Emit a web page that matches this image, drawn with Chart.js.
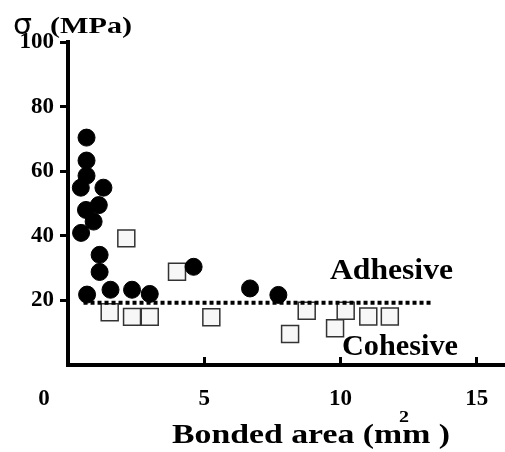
<!DOCTYPE html>
<html><head><meta charset="utf-8">
<script src="https://cdn.jsdelivr.net/npm/chart.js@4/dist/chart.umd.min.js"></script>
<style>html,body{margin:0;padding:0;background:#fff}canvas{display:block}</style>
</head><body>
<canvas id="c" width="505" height="452"></canvas>
<script>
// Adhesive failures (filled circles)
const adhesiveX = [0.68,0.68,0.68,0.47,1.30,0.66,1.13,0.94,0.48,1.16,1.16,0.70,1.56,2.35,3.0,4.61,6.68,7.72];
const adhesiveY = [70.4,63.3,58.6,54.9,54.9,48.0,49.5,44.4,40.9,34.1,28.8,21.8,23.3,23.3,22.0,30.4,23.7,21.7];
// Cohesive failures (open squares)
const cohesiveX = [2.14,1.53,2.35,3.0,4.0,5.26,8.15,8.76,9.8,10.19,11.02,11.81];
const cohesiveY = [39.2,16.3,14.9,14.9,28.9,14.8,9.6,16.8,11.4,16.8,15.0,15.0];
// Threshold (dotted line)
const thresholdX = [0.57,13.4];
const thresholdY = [19.3,19.3];
// Axis ticks
const xTicks = [0,5,10,15];
const yTicks = [0,20,40,60,80,100];
const xRange = [0,16];
const yRange = [0,100];

const pts = (xs, ys) => xs.map((x,i) => ({x, y: ys[i]}));
const SERIF = "'Liberation Serif','Times New Roman',serif";

function drawText(ctx, txt, left, baseline, font, targetW) {
  ctx.save();
  ctx.font = font;
  ctx.textAlign = 'left';
  ctx.textBaseline = 'alphabetic';
  ctx.fillStyle = '#000';
  const w = ctx.measureText(txt).width;
  const sx = targetW ? targetW / w : 1;
  ctx.translate(left, baseline);
  ctx.scale(sx, 1);
  ctx.fillText(txt, 0, 0);
  ctx.restore();
}

const textPlugin = {
  id: 'texts',
  afterDraw(chart) {
    const ctx = chart.ctx;
    const xs = chart.scales.x;
    // y axis title
    drawText(ctx, 'σ', 13, 34, "28px 'DejaVu Sans'", 19);
    drawText(ctx, '(MPa)', 50, 33, "bold 24px " + SERIF, 82);
    // region labels
    drawText(ctx, 'Adhesive', 330, 279, "bold 29px " + SERIF, 123);
    drawText(ctx, 'Cohesive', 342, 355, "bold 29px " + SERIF, 116);
    // x axis title
    drawText(ctx, 'Bonded area (mm )', 172, 443, "bold 27px " + SERIF, 278);
    drawText(ctx, '2', 399, 422, "bold 16px " + SERIF, 10);
    // origin label, shifted left of the axis as in the original
    ctx.save();
    ctx.font = "bold 23px " + SERIF;
    ctx.fillStyle = '#000';
    ctx.textAlign = 'center';
    ctx.textBaseline = 'alphabetic';
    ctx.fillText('0', xs.getPixelForValue(0) - 24, 405);
    ctx.restore();
  }
};

const hideZero = c => (c.tick && c.tick.value === 0) ? 'rgba(0,0,0,0)' : '#000';

new Chart(document.getElementById('c'), {
  type: 'scatter',
  data: {
    datasets: [
      {
        label: 'Adhesive',
        data: pts(adhesiveX, adhesiveY),
        pointStyle: 'circle',
        pointRadius: 8.5,
        backgroundColor: '#000',
        borderColor: '#000',
        borderWidth: 1,
        order: 0
      },
      {
        type: 'line',
        label: 'Threshold',
        data: pts(thresholdX, thresholdY),
        borderColor: '#000',
        borderWidth: 4,
        borderDash: [4,3],
        borderCapStyle: 'butt',
        pointRadius: 0,
        fill: false,
        showLine: true,
        order: 1
      },
      {
        label: 'Cohesive',
        data: pts(cohesiveX, cohesiveY),
        pointStyle: 'rect',
        pointRadius: 12,
        backgroundColor: '#f7f7f7',
        borderColor: '#333',
        borderWidth: 1.5,
        order: 2
      }
    ]
  },
  options: {
    responsive: false,
    animation: false,
    events: [],
    layout: { autoPadding: false, padding: { top: 42, right: 1, bottom: 0, left: 0 } },
    plugins: { legend: { display: false }, tooltip: { enabled: false } },
    scales: {
      x: {
        type: 'linear',
        min: xRange[0], max: xRange[1],
        afterBuildTicks: s => { s.ticks = xTicks.map(v => ({ value: v })); },
        afterFit: s => { s.height = 87; s.paddingLeft = 0; s.paddingRight = 0; },
        border: { display: true, color: '#000', width: 4 },
        grid: { drawOnChartArea: false, drawTicks: true, tickLength: -8, tickWidth: 3, tickColor: hideZero },
        ticks: {
          font: { family: SERIF, weight: 'bold', size: 23 },
          color: '#000', padding: 28, autoSkip: false, maxRotation: 0,
          callback: v => v === 0 ? '' : String(v)
        }
      },
      y: {
        type: 'linear',
        min: yRange[0], max: yRange[1],
        afterBuildTicks: s => { s.ticks = yTicks.map(v => ({ value: v })); },
        afterFit: s => { s.width = 68; s.paddingTop = 0; s.paddingBottom = 0; },
        border: { display: true, color: '#000', width: 4 },
        grid: { drawOnChartArea: false, drawTicks: true, tickLength: 8, tickWidth: 3, tickColor: hideZero },
        ticks: {
          font: { family: SERIF, weight: 'bold', size: 23 },
          color: '#000', padding: 6, autoSkip: false,
          callback: v => v === 0 ? '' : String(v)
        }
      }
    }
  },
  plugins: [textPlugin]
});
</script>
</body></html>
